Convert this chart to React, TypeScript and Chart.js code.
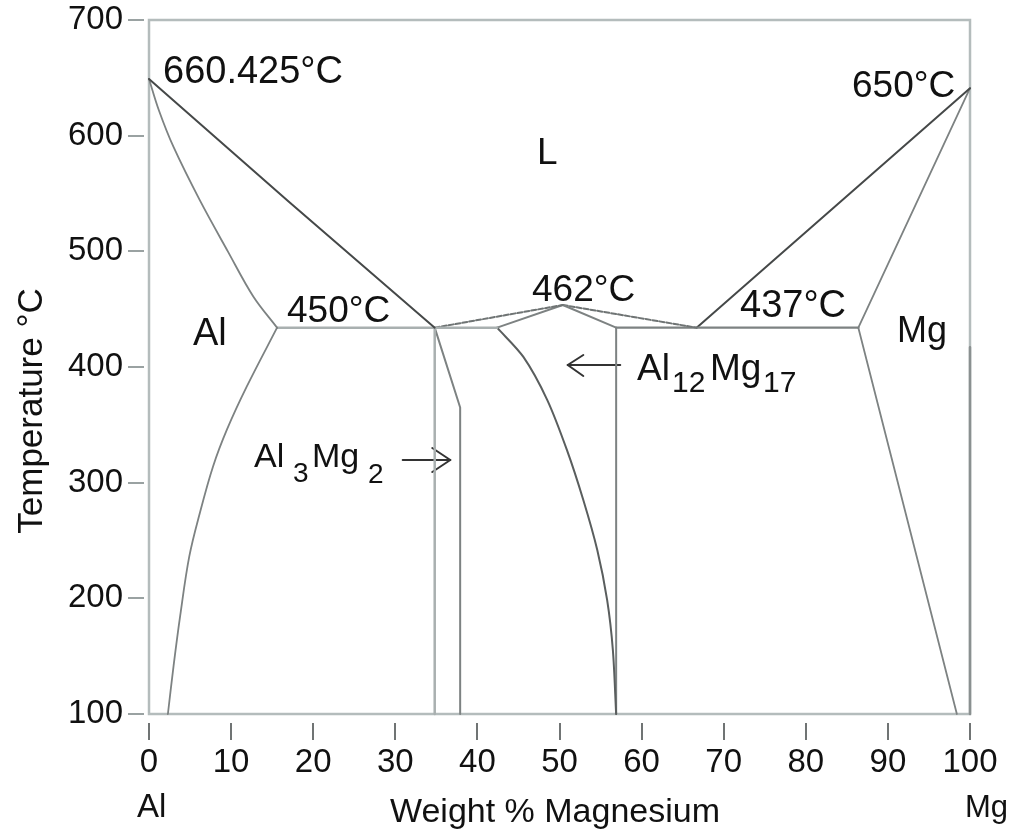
import React, { useEffect, useRef } from "react";
import { Chart, registerables } from "chart.js";

Chart.register(...registerables);

// ---- tick labels ----
const xTicks = [0, 10, 20, 30, 40, 50, 60, 70, 80, 90, 100];
const yTicks = [100, 200, 300, 400, 500, 600, 700];

// ---- phase boundaries: [wt% Mg, temperature °C] ----
const alLiquidus = [[0, 649], [17, 543], [34.8, 434]];
const alSolidus = [[0, 649], [1.2, 622], [3.0, 590], [6.2, 544], [9.6, 500], [12.7, 461], [15.6, 434]];
const alSolvus = [[15.6, 434], [11.9, 383], [9.5, 346], [7.8, 314], [6.2, 274], [4.9, 236], [3.8, 185], [3.0, 142], [2.3, 100]];
const eutecticLeft = [[15.6, 434], [42.4, 434]];
const al3mg2Left = [[34.8, 434], [34.8, 100]];
const al3mg2Right = [[34.8, 434], [37.9, 365], [37.9, 100]];
const peakLiquidusLeft = [[34.8, 434], [50.4, 453.6]];
const al12mg17SolidusLeft = [[42.4, 434], [50.4, 453.6]];
const al12mg17Solvus = [[42.4, 434], [45.6, 408.7], [48.5, 371.6], [50.9, 328.3], [52.9, 285], [54.6, 241.8], [55.8, 198.6], [56.5, 155.3], [56.9, 100]];
const al12mg17SolidusRight = [[50.4, 453.6], [56.9, 434]];
const peakLiquidusRight = [[50.4, 453.6], [66.7, 434]];
const al12mg17Right = [[56.9, 434], [56.9, 100]];
const eutecticRight = [[56.9, 434], [86.4, 434]];
const mgLiquidus = [[66.7, 434], [100, 641]];
const mgSolidus = [[86.4, 434], [100, 641]];
const mgSolvus = [[86.4, 434], [98.4, 100]];
const mgEdge = [[100, 417], [100, 100]];

// ---- arrows ----
const arrowAl12Shaft = [[57.4, 401.7], [51.0, 401.7]];
const arrowAl12Head = [[52.9, 410.4], [51.0, 401.7], [52.9, 392.2]];
const arrowAl3Shaft = [[30.9, 319.6], [36.7, 319.6]];
const arrowAl3Head = [[34.5, 330], [36.7, 319.6], [34.5, 309.2]];

const FONT = '"Liberation Sans", Arial, Helvetica, sans-serif';
const TEXT = "#111111";

type Label = { t: string; x: number; y: number; s: number };
const labels: Label[] = [
  { t: "660.425°C", x: 163, y: 83, s: 38 },
  { t: "650°C", x: 852, y: 97, s: 37 },
  { t: "L", x: 537, y: 164, s: 37 },
  { t: "450°C", x: 287, y: 322, s: 37 },
  { t: "462°C", x: 532, y: 301, s: 37 },
  { t: "437°C", x: 740, y: 317, s: 38 },
  { t: "Al", x: 193, y: 345, s: 38 },
  { t: "Mg", x: 897, y: 342, s: 36 },
  { t: "Al", x: 637, y: 380, s: 37 },
  { t: "12", x: 672, y: 392, s: 30 },
  { t: "Mg", x: 710, y: 380, s: 37 },
  { t: "17", x: 763, y: 392, s: 30 },
  { t: "Al", x: 254, y: 467, s: 34 },
  { t: "3", x: 293, y: 482, s: 28 },
  { t: "Mg", x: 312, y: 467, s: 34 },
  { t: "2", x: 368, y: 483, s: 28 },
  { t: "Al", x: 137, y: 817, s: 33 },
  { t: "Mg", x: 965, y: 817, s: 31 },
];

export default function App() {
  const ref = useRef<HTMLCanvasElement>(null);

  useEffect(() => {
    document.body.style.margin = "0";
    const canvas = ref.current;
    if (!canvas) return;

    const mk = (pts: number[][], color: string, width: number, dash: number[] = [], tension = 0) => ({
      data: pts.map(([x, y]) => ({ x, y })),
      showLine: true,
      borderColor: color,
      backgroundColor: color,
      borderWidth: width,
      borderDash: dash,
      pointRadius: 0,
      pointHoverRadius: 0,
      tension,
      fill: false,
      clip: false as any,
      borderCapStyle: "round" as const,
      borderJoinStyle: "round" as const,
    });

    const decor = {
      id: "decor",
      beforeDatasetsDraw(chart: any) {
        const { ctx, scales } = chart;
        const x = scales.x, y = scales.y;
        const l = x.getPixelForValue(0), r = x.getPixelForValue(100);
        const t = y.getPixelForValue(700), b = y.getPixelForValue(100);
        ctx.save();
        ctx.strokeStyle = "#b4bcbc";
        ctx.lineWidth = 2.5;
        ctx.strokeRect(l, t, r - l, b - t);
        ctx.restore();
      },
      afterDraw(chart: any) {
        const { ctx } = chart;
        ctx.save();
        ctx.fillStyle = TEXT;
        ctx.textBaseline = "alphabetic";
        ctx.textAlign = "left";
        for (const lb of labels) {
          ctx.font = `${lb.s}px ${FONT}`;
          ctx.fillText(lb.t, lb.x, lb.y);
        }
        // axis titles
        ctx.textAlign = "center";
        ctx.font = `34px ${FONT}`;
        ctx.fillText("Weight % Magnesium", 555, 822);
        ctx.translate(42, 411);
        ctx.rotate(-Math.PI / 2);
        ctx.font = `35px ${FONT}`;
        ctx.fillText("Temperature °C", 0, 0);
        ctx.restore();
      },
    };

    const DARK = "#454848";
    const MID = "#7d8282";
    const LIGHT = "#a9b0b0";

    const chart = new Chart(canvas, {
      type: "scatter",
      data: {
        datasets: [
          mk(alLiquidus, DARK, 2),
          mk(alSolidus, MID, 1.8, [], 0.35),
          mk(alSolvus, MID, 1.8, [], 0.35),
          mk(eutecticLeft, LIGHT, 2.5),
          mk(al3mg2Left, LIGHT, 2.5),
          mk(al3mg2Right, MID, 2),
          mk(peakLiquidusLeft, "#6f7474", 2, [5, 2]),
          mk(al12mg17SolidusLeft, MID, 2),
          mk(al12mg17Solvus, "#5a5e5e", 2, [], 0.3),
          mk(al12mg17SolidusRight, MID, 2),
          mk(peakLiquidusRight, "#6f7474", 2, [5, 2]),
          mk(al12mg17Right, MID, 2),
          mk(eutecticRight, MID, 2.2),
          mk(mgLiquidus, DARK, 2),
          mk(mgSolidus, MID, 1.8),
          mk(mgSolvus, MID, 1.8),
          mk(mgEdge, "#8a9090", 2.5),
          mk(arrowAl12Shaft, "#333", 2),
          mk(arrowAl12Head, "#333", 2),
          mk(arrowAl3Shaft, "#333", 2),
          mk(arrowAl3Head, "#333", 2),
        ] as any,
      },
      options: {
        responsive: false,
        animation: false,
        devicePixelRatio: 1,
        events: [],
        layout: { padding: { top: 20, right: 41, left: 0, bottom: 0 } },
        plugins: { legend: { display: false }, tooltip: { enabled: false } },
        scales: {
          x: {
            type: "linear",
            min: -0.61,
            max: 100,
            afterBuildTicks: (s: any) => {
              s.ticks = xTicks.map((v) => ({ value: v }));
            },
            afterFit: (s: any) => {
              s.height = 109;
              s.paddingLeft = 0;
              s.paddingRight = 0;
              s.paddingTop = 0;
              s.paddingBottom = 0;
            },
            grid: { drawOnChartArea: false, drawTicks: true, tickLength: 17, color: "#707474", lineWidth: 2 },
            border: { display: false },
            ticks: { font: { family: FONT, size: 33 }, color: TEXT, padding: 3, maxRotation: 0, autoSkip: false },
          },
          y: {
            type: "linear",
            min: 92.22,
            max: 700,
            afterBuildTicks: (s: any) => {
              s.ticks = yTicks.map((v) => ({ value: v }));
            },
            afterFit: (s: any) => {
              s.width = 144;
              s.paddingLeft = 0;
              s.paddingRight = 0;
              s.paddingTop = 0;
              s.paddingBottom = 0;
            },
            grid: { drawOnChartArea: false, drawTicks: true, tickLength: 16, color: "#9aa2a2", lineWidth: 2 },
            border: { display: false },
            ticks: { font: { family: FONT, size: 33 }, color: TEXT, padding: 5, autoSkip: false },
          },
        },
      },
      plugins: [decor],
    });

    return () => chart.destroy();
  }, []);

  return (
    <div style={{ width: 1011, height: 832 }}>
      <canvas ref={ref} width={1011} height={832} style={{ display: "block", width: 1011, height: 832 }} />
    </div>
  );
}
